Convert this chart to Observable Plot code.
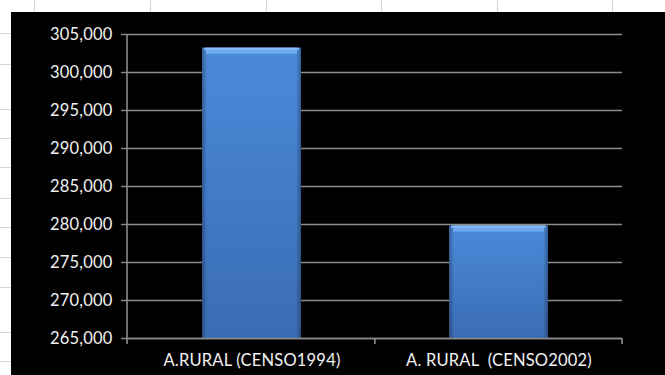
<!DOCTYPE html>
<html>
<head>
<meta charset="utf-8">
<script src="https://cdn.jsdelivr.net/npm/d3@7"></script>
<script src="https://cdn.jsdelivr.net/npm/@observablehq/plot@0.6"></script>
<style>
  html, body { margin: 0; padding: 0; background: #ffffff; }
  #sheet { position: relative; width: 665px; height: 375px; overflow: hidden; background: #ffffff; }
  .hline { position: absolute; left: 0; width: 11px; height: 1px; background: #d4d4d4; }
  .vline { position: absolute; top: 0; width: 1px; height: 12px; background: #d4d4d4; }
  #black { position: absolute; left: 11px; top: 12px; right: 0; bottom: 0; background: #000000; }
  #chart { position: absolute; left: 0; top: 0; }
  #chart svg { background: transparent; }
</style>
</head>
<body>
<div id="sheet">
  <div id="black"></div>
  <div id="chart"></div>
</div>
<script>
// ---- data ----
const categories = ["A.RURAL (CENSO1994)", "A. RURAL  (CENSO2002)"];
const values = [303200, 279800];
const yTicks = [265000, 270000, 275000, 280000, 285000, 290000, 295000, 300000, 305000];
const yDomain = [265000, 305000];

// spreadsheet decoration (outside chart)
const sheet = document.getElementById("sheet");
[33, 64, 109, 138, 167, 198, 227, 257, 287, 332, 361].forEach(y => {
  const d = document.createElement("div"); d.className = "hline"; d.style.top = y + "px"; sheet.insertBefore(d, sheet.firstChild);
});
[34, 150, 266, 381, 497, 612].forEach(x => {
  const d = document.createElement("div"); d.className = "vline"; d.style.left = x + "px"; sheet.insertBefore(d, sheet.firstChild);
});

const data = categories.map((c, i) => ({cat: c, value: values[i], base: yDomain[0]}));

const font = "Lato, 'Open Sans', sans-serif";
const gridColor = "#8c8c8c";
const textColor = "#f2f2f2";

const plot = Plot.plot({
  width: 665,
  height: 375,
  marginLeft: 127,
  marginRight: 43,
  marginTop: 34,
  marginBottom: 37,
  style: {background: "transparent", fontFamily: font, fontSize: "16.5px", color: textColor},
  x: {domain: categories, paddingInner: 0.6, paddingOuter: 0.3, label: null},
  y: {domain: yDomain, label: null},
  marks: [
    Plot.gridY(yTicks, {stroke: gridColor, strokeOpacity: 1, strokeWidth: 1.6}),
    Plot.barY(data, {x: "cat", y1: "base", y2: "value", fill: "url(#barV)"}),
    Plot.barY(data, {x: "cat", y1: "base", y2: "value", fill: "url(#barH)"}),
    Plot.barY(data, {x: "cat", y1: "value", y2: "value", insetBottom: -6, insetLeft: 4, insetRight: 4, fill: "#6eaaf2"}),
    Plot.barY(data, {x: "cat", y1: "value", y2: "value", insetBottom: -2, insetLeft: 2, insetRight: 2, fill: "#86bcf6"}),
    Plot.ruleY([yDomain[0]], {stroke: gridColor, strokeWidth: 1.6}),
    Plot.axisY(yTicks, {tickFormat: d3.format(","), tickSize: 6, tickPadding: 9, stroke: gridColor, fill: textColor, fontSize: 16.5, strokeWidth: 1.4}),
    Plot.axisX({tickSize: 0, tickPadding: 16, fill: textColor, fontSize: 16.5})
  ]
});

// gradients and axis line / category boundary ticks built from the plot's scales
const svg = d3.select(plot);
const defs = svg.insert("defs", ":first-child");
const gv = defs.append("linearGradient").attr("id", "barV").attr("x1", 0).attr("y1", 0).attr("x2", 0).attr("y2", 1);
gv.append("stop").attr("offset", "0%").attr("stop-color", "#4b8ad9");
gv.append("stop").attr("offset", "100%").attr("stop-color", "#3a6cb4");
const gh = defs.append("linearGradient").attr("id", "barH").attr("x1", 0).attr("y1", 0).attr("x2", 1).attr("y2", 0);
gh.append("stop").attr("offset", "0%").attr("stop-color", "#000").attr("stop-opacity", 0.3);
gh.append("stop").attr("offset", "5%").attr("stop-color", "#000").attr("stop-opacity", 0);
gh.append("stop").attr("offset", "95%").attr("stop-color", "#000").attr("stop-opacity", 0);
gh.append("stop").attr("offset", "100%").attr("stop-color", "#000").attr("stop-opacity", 0.3);

const xs = plot.scale("x"), ys = plot.scale("y");
const y0 = ys.apply(yDomain[0]), y1 = ys.apply(yDomain[1]);
const left = xs.range[0], right = xs.range[1];
const bounds = [left].concat(categories.slice(1).map(c => xs.apply(c) - xs.step * xs.paddingInner / 2)).concat([right]);
const g = svg.append("g").attr("stroke", gridColor).attr("stroke-width", 1.6);
g.append("line").attr("x1", left).attr("x2", left).attr("y1", y1).attr("y2", y0);
bounds.forEach(b => g.append("line").attr("x1", b).attr("x2", b).attr("y1", y0).attr("y2", y0 + 6));

svg.selectAll("text").style("white-space", "pre").style("letter-spacing", "0.2px");
document.getElementById("chart").appendChild(plot);
</script>
</body>
</html>
